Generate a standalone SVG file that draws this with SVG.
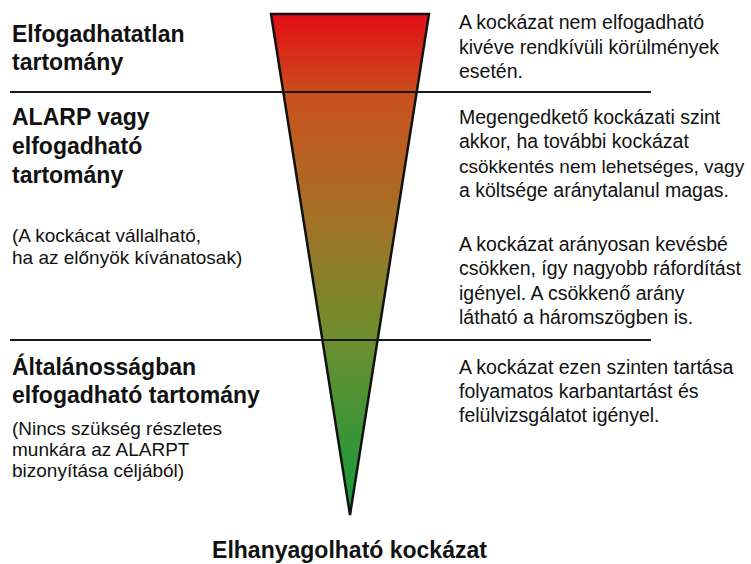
<svg xmlns="http://www.w3.org/2000/svg" width="751" height="564" viewBox="0 0 751 564">
  <defs>
    <linearGradient id="risk" x1="0" y1="0" x2="0" y2="1">
      <stop offset="0" stop-color="#e20e16"/>
      <stop offset="0.17" stop-color="#c9521e"/>
      <stop offset="0.4" stop-color="#a57026"/>
      <stop offset="0.65" stop-color="#6e8e2f"/>
      <stop offset="0.93" stop-color="#22983a"/>
      <stop offset="1" stop-color="#179a3b"/>
    </linearGradient>
    <style>
      .h { font-family: "Liberation Sans", Arial, sans-serif; font-weight: bold; font-size: 23px; fill: #111; }
      .s { font-family: "Liberation Sans", Arial, sans-serif; font-size: 19px; fill: #111; }
      .r { font-family: "Liberation Sans", Arial, sans-serif; font-size: 19.5px; fill: #111; }
      .div { stroke: #1a1a1a; stroke-width: 2; }
    </style>
  </defs>
  <rect width="751" height="564" fill="#ffffff"/>

  <g id="triangle">
    <polygon points="271,14 429,14 350,515" fill="url(#risk)" stroke="#111" stroke-width="2.5" stroke-linejoin="miter"/>
  </g>

  <g id="connectors">
    <line class="div" x1="10" y1="92" x2="651" y2="92"/>
    <line class="div" x1="10" y1="340" x2="651" y2="340"/>
  </g>

  <g id="unacceptable">
    <text class="h" x="12" y="42">Elfogadhatatlan</text>
    <text class="h" x="12" y="70">tartomány</text>
  </g>

  <g id="alarp">
    <text class="h" x="12" y="125">ALARP vagy</text>
    <text class="h" x="12" y="154">elfogadható</text>
    <text class="h" x="12" y="183">tartomány</text>
    <text class="s" x="12" y="242">(A kockácat vállalható,</text>
    <text class="s" x="12" y="264">ha az előnyök kívánatosak)</text>
  </g>

  <g id="acceptable">
    <text class="h" x="12" y="375">Általánosságban</text>
    <text class="h" x="12" y="403">elfogadható tartomány</text>
    <text class="s" x="12" y="435">(Nincs szükség részletes</text>
    <text class="s" x="12" y="456">munkára az ALARPT</text>
    <text class="s" x="12" y="477">bizonyítása céljából)</text>
  </g>

  <g id="desc-unacceptable">
    <text class="r" x="459" y="29">A kockázat nem elfogadható</text>
    <text class="r" x="459" y="54">kivéve rendkívüli körülmények</text>
    <text class="r" x="459" y="78">esetén.</text>
  </g>

  <g id="desc-alarp">
    <text class="r" x="459" y="124">Megengedkető kockázati szint</text>
    <text class="r" x="459" y="148">akkor, ha további kockázat</text>
    <text class="r" x="459" y="173" style="font-size:19px">csökkentés nem lehetséges, vagy</text>
    <text class="r" x="459" y="197">a költsége aránytalanul magas.</text>
    <text class="r" x="459" y="251">A kockázat arányosan kevésbé</text>
    <text class="r" x="459" y="275">csökken, így nagyobb ráfordítást</text>
    <text class="r" x="459" y="300">igényel. A csökkenő arány</text>
    <text class="r" x="459" y="324">látható a háromszögben is.</text>
  </g>

  <g id="desc-acceptable">
    <text class="r" x="459" y="374">A kockázat ezen szinten tartása</text>
    <text class="r" x="459" y="398">folyamatos karbantartást és</text>
    <text class="r" x="459" y="422">felülvizsgálatot igényel.</text>
  </g>

  <g id="negligible">
    <text class="h" x="349.5" y="558" text-anchor="middle">Elhanyagolható kockázat</text>
  </g>
</svg>
